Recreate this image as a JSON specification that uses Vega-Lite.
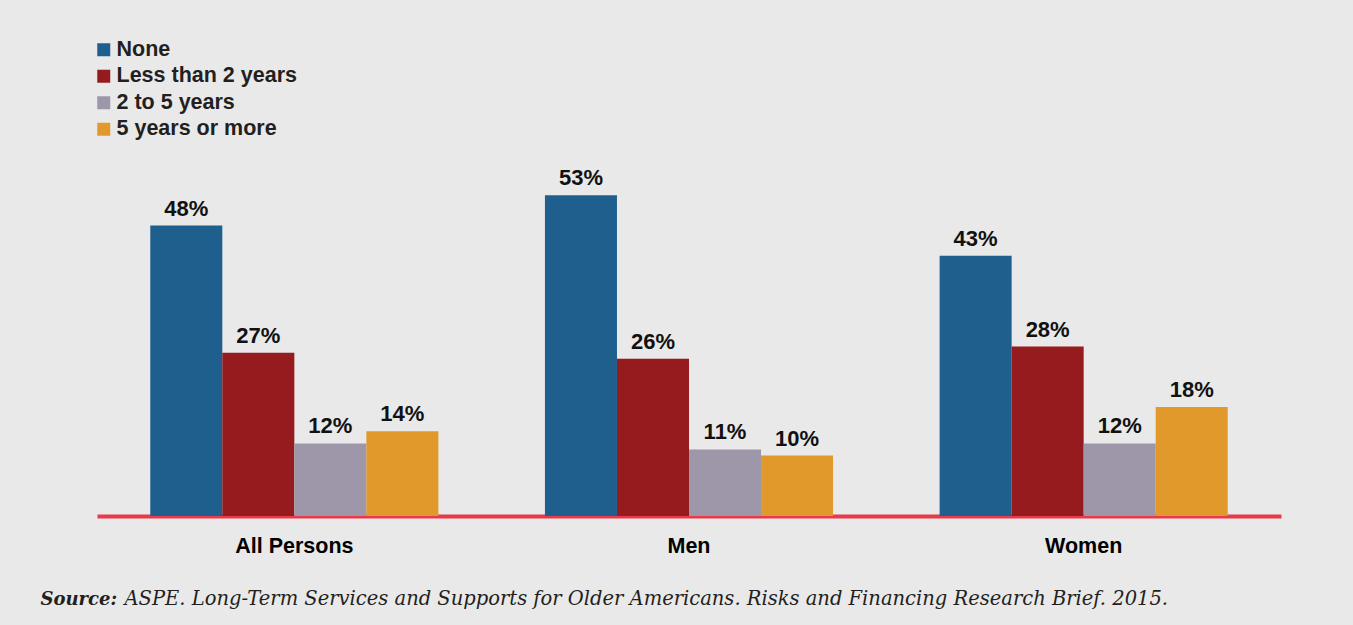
{
  "$schema": "https://vega.github.io/schema/vega-lite/v6.json",
  "width": 1184,
  "height": 363,
  "autosize": {"type": "none"},
  "padding": {"left": 97, "top": 153, "right": 72, "bottom": 109},
  "background": "#e9e9e9",
  "config": {"view": {"stroke": null}, "font": "Liberation Sans"},
  "data": {
    "values": [
      {"group": "All Persons", "duration": "None", "value": 0.48},
      {"group": "All Persons", "duration": "Less than 2 years", "value": 0.27},
      {"group": "All Persons", "duration": "2 to 5 years", "value": 0.12},
      {"group": "All Persons", "duration": "5 years or more", "value": 0.14},
      {"group": "Men", "duration": "None", "value": 0.53},
      {"group": "Men", "duration": "Less than 2 years", "value": 0.26},
      {"group": "Men", "duration": "2 to 5 years", "value": 0.11},
      {"group": "Men", "duration": "5 years or more", "value": 0.10},
      {"group": "Women", "duration": "None", "value": 0.43},
      {"group": "Women", "duration": "Less than 2 years", "value": 0.28},
      {"group": "Women", "duration": "2 to 5 years", "value": 0.12},
      {"group": "Women", "duration": "5 years or more", "value": 0.18}
    ]
  },
  "encoding": {
    "x": {
      "field": "group",
      "type": "nominal",
      "sort": ["All Persons", "Men", "Women"],
      "scale": {"paddingInner": 0.27, "paddingOuter": 0.135},
      "axis": {
        "title": "ASPE. Long-Term Services and Supports for Older Americans. Risks and Financing Research Brief. 2015.",
        "titleX": 27,
        "titleY": 88,
        "titleAlign": "left",
        "titleBaseline": "alphabetic",
        "titleFont": "DejaVu Serif",
        "titleFontStyle": "italic",
        "titleFontWeight": "normal",
        "titleFontSize": 19.5,
        "titleColor": "#231f20",
        "titleLimit": 0,
        "labelAngle": 0,
        "labelFontSize": 21.5,
        "labelFontWeight": "bold",
        "labelColor": "#000000",
        "labelPadding": 19,
        "ticks": false,
        "tickSize": 0,
        "domainColor": "#e83a4b",
        "domainWidth": 4
      }
    },
    "xOffset": {
      "field": "duration",
      "type": "nominal",
      "sort": ["None", "Less than 2 years", "2 to 5 years", "5 years or more"]
    },
    "y": {
      "field": "value",
      "type": "quantitative",
      "scale": {"domain": [0, 0.6]},
      "axis": {
        "title": "Source:",
        "titleAngle": 0,
        "titleX": -57,
        "titleY": 451,
        "titleAlign": "left",
        "titleBaseline": "alphabetic",
        "titleFont": "DejaVu Serif",
        "titleFontStyle": "italic",
        "titleFontWeight": "bold",
        "titleFontSize": 18,
        "titleColor": "#231f20",
        "labels": false,
        "ticks": false,
        "domain": false,
        "grid": false
      }
    }
  },
  "layer": [
    {
      "mark": {"type": "bar"},
      "encoding": {
        "color": {
          "field": "duration",
          "type": "nominal",
          "sort": ["None", "Less than 2 years", "2 to 5 years", "5 years or more"],
          "scale": {
            "domain": ["None", "Less than 2 years", "2 to 5 years", "5 years or more"],
            "range": ["#1f5f8e", "#951b1f", "#9e97aa", "#e0992a"]
          },
          "legend": {
            "orient": "none",
            "legendX": -4,
            "legendY": -114,
            "title": null,
            "labelFont": "Liberation Sans",
            "labelFontSize": 21.5,
            "labelFontWeight": "bold",
            "labelColor": "#231f20",
            "labelLimit": 0,
            "symbolType": "square",
            "symbolSize": 169,
            "symbolStrokeWidth": 0,
            "symbolOpacity": 1,
            "rowPadding": 3.5,
            "labelOffset": 2,
            "padding": 0
          }
        }
      }
    },
    {
      "mark": {
        "type": "text",
        "dy": -10,
        "baseline": "alphabetic",
        "fontSize": 22,
        "fontWeight": "bold",
        "color": "#111111"
      },
      "encoding": {
        "text": {"field": "value", "type": "quantitative", "format": ".0%"}
      }
    }
  ]
}
